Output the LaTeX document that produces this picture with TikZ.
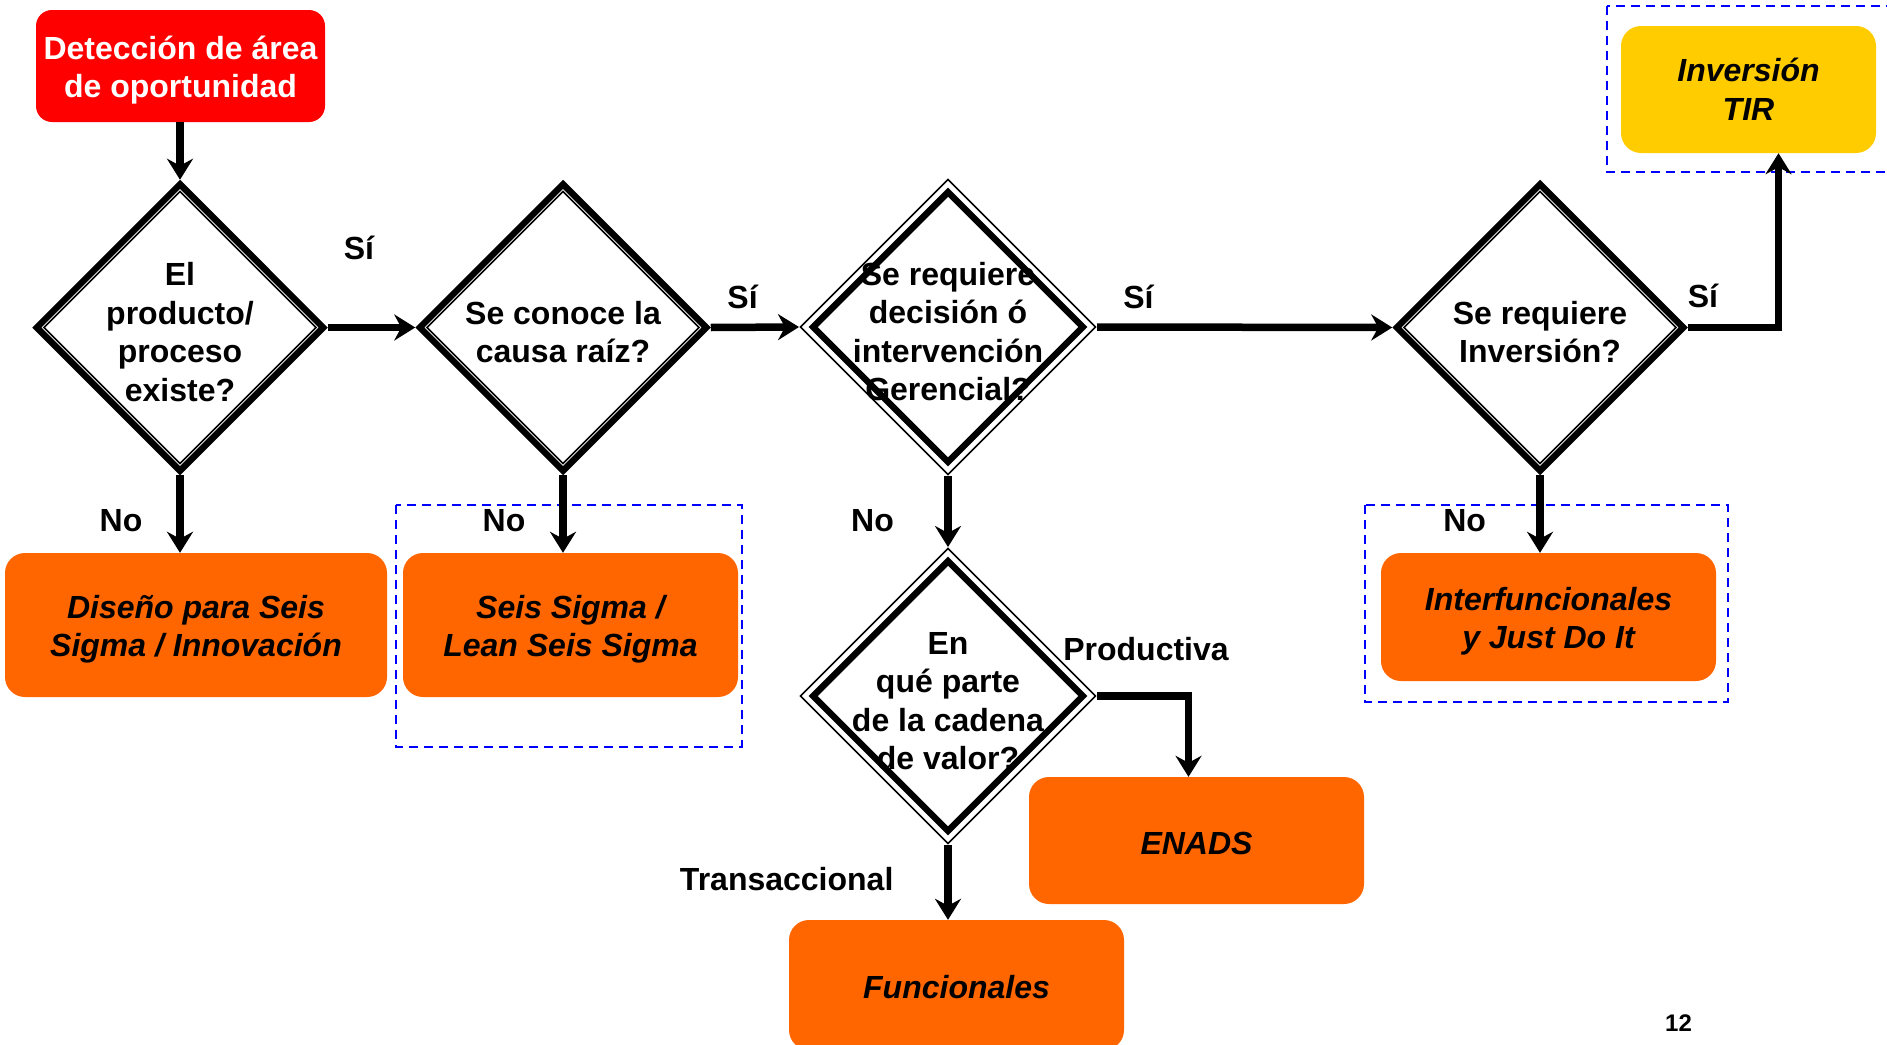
\documentclass[tikz,border=0pt]{standalone}
\usepackage{fontspec}
\setmainfont{Liberation Sans}
\usetikzlibrary{shapes.geometric,arrows.meta,backgrounds}

\definecolor{oppred}{HTML}{FF0000}
\definecolor{orangebox}{HTML}{FF6600}
\definecolor{tiryellow}{HTML}{FFCC00}
\definecolor{groupblue}{HTML}{0000FF}

\newcommand{\flowfont}{\fontsize{32pt}{38.5pt}\selectfont\bfseries}
% pushes the lines of a node a little down
\newcommand{\topgap}{\rule{0pt}{32pt}}
\newcommand{\onegap}{\rule{0pt}{28pt}}

\tikzset{
  question/.style={diamond, draw, line width=6.5pt, minimum width=289pt, minimum height=289pt, inner sep=-60pt, align=center, font=\flowfont},
  questionin/.style={question, minimum width=278pt, minimum height=278pt, outer sep=10pt},
  startbox/.style={rectangle, rounded corners=16pt, fill=oppred, text=white, align=center, font=\flowfont, minimum width=289pt, minimum height=112pt},
  toolbox/.style={rectangle, rounded corners=20pt, fill=orangebox, align=center, font=\flowfont\itshape, minimum width=335pt, minimum height=128pt},
  flow/.style={line width=7.5pt, -{Stealth[length=21pt,width=26pt,inset=7pt]}},
  answer/.style={font=\flowfont, inner sep=0pt},
  thinline/.style={line width=1.5pt},
  groupbox/.style={groupblue, line width=2pt, dash pattern=on 9pt off 6pt},
}

\begin{document}
\begin{tikzpicture}[x=1pt,y=-1pt]
	\useasboundingbox (0,0) rectangle (1887,1044);
	
	% start
	\node[startbox] (det) at (180.5,66) {\topgap Detección de área\\de oportunidad};
	
	% decisions
	\node[question] (d1) at (180,327.5) {\topgap El\\producto/\\proceso\\existe?};
	\node[question] (d2) at (563,327.5) {\topgap Se conoce la\\causa raíz?};
	\node[questionin] (d3) at (948,327) {\topgap Se requiere\\decisión ó\\intervención\\Gerencial?};
	\node[question] (d4) at (1540,327.5) {\topgap Se requiere\\Inversión?};
	\node[questionin] (d5) at (948,696) {\topgap En\\qué parte\\de la cadena\\de valor?};
	
	% second line of each diamond
	\begin{scope}[on background layer]
		\foreach \d/\r in {d1/136,d2/136,d4/136,d3/147.5,d5/147.5}
		\draw[thinline] ([yshift=\r pt]\d.center) -- ([xshift=\r pt]\d.center) -- ([yshift=-\r pt]\d.center) -- ([xshift=-\r pt]\d.center) -- cycle;
	\end{scope}
	
	% results
	\node[toolbox, minimum width=382pt, minimum height=144pt] (dfss) at (196,625) {\topgap Diseño para Seis\\Sigma / Innovación};
	\node[toolbox, minimum height=144pt] (ss) at (570.5,625) {\topgap Seis Sigma /\\Lean Seis Sigma};
	\node[toolbox] (inter) at (1548.5,617) {\topgap Interfuncionales\\y Just Do It};
	\node[toolbox, minimum height=127pt] (enads) at (1196.5,840.5) {\onegap ENADS};
	\node[toolbox, minimum height=130pt] (func) at (956.5,985) {\onegap Funcionales};
	\node[toolbox, fill=tiryellow, minimum width=255pt, minimum height=127pt] (tir) at (1748.5,89.5) {Inversión\\TIR};
	
	% dashed groups
	\draw[groupbox] (396,505) rectangle (742,746.7);
	\draw[groupbox] (1365,505) rectangle (1728,702);
	\draw[groupbox] (1607,6) rectangle (1900,172);
	
	% arrows
	\draw[flow] (d1.north |- det.south) -- (d1.north);
	\draw[flow] (d1.east) -- (d2.west);
	\draw[flow] (d2.east) -- (d3.west);
	\draw[flow] (d3.east) -- (d4.west);
	\draw[flow] (d4.east) -| ([xshift=30pt]tir.south);
	\draw[flow] (d1.south) -- (d1.south |- dfss.north);
	\draw[flow] (d2.south) -- (d2.south |- ss.north);
	\draw[flow] (d3.south) -- (d5.north);
	\draw[flow] (d4.south) -- (d4.south |- inter.north);
	\draw[flow] (d5.east) -| ([xshift=-8pt]enads.north);
	\draw[flow] (d5.south) -- (d5.south |- func.north);
	
	% answers
	\node[answer] (si1) at (359,248) {Sí};
	\node[answer] (si2) at (742.6,296.5) {Sí};
	\node[answer] (si3) at (1138.5,296.5) {Sí};
	\node[answer] (si4) at (1703,296) {Sí};
	\node[answer] (no1) at (121,520.5) {No};
	\node[answer] (no2) at (504,520.5) {No};
	\node[answer] (no3) at (872.5,520.5) {No};
	\node[answer] (no4) at (1464.6,520.5) {No};
	\node[answer] (prod) at (1146,649) {Productiva};
	\node[answer] (trans) at (786.7,879.5) {Transaccional};
	
	\node[answer, font=\fontsize{24pt}{28pt}\selectfont\bfseries] (pagenum) at (1678.5,1023) {12};
\end{tikzpicture}
\end{document}
